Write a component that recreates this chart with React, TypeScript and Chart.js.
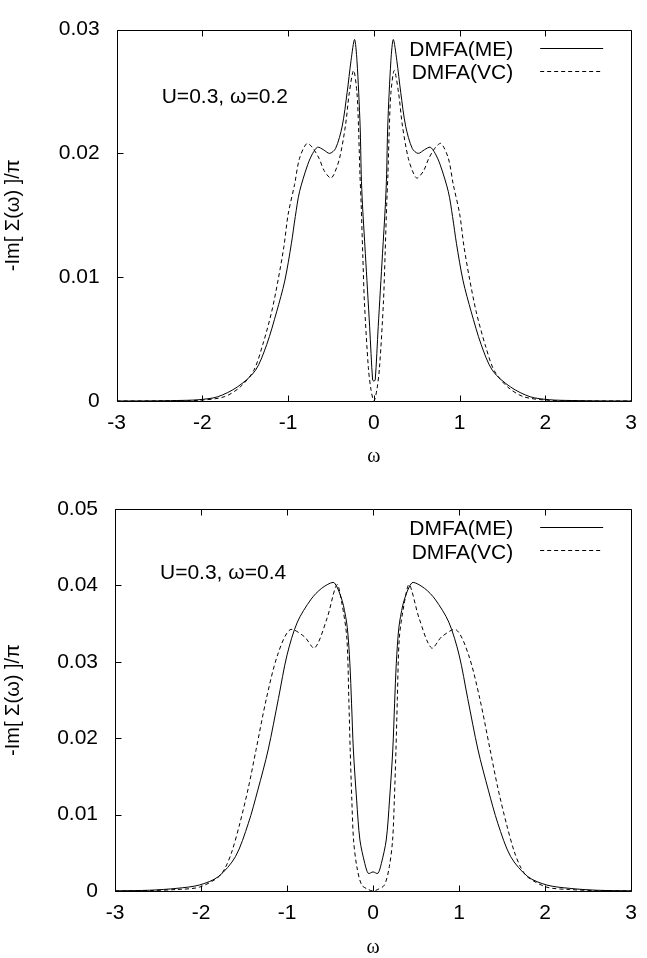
import React, { useEffect, useRef } from 'react';
import { Chart, registerables } from 'chart.js';

Chart.register(...registerables);

const SANS = '"Liberation Sans", Arial, Helvetica, sans-serif';
const SERIF = '"Liberation Serif", "Times New Roman", serif';

// ---- labels / ticks ----
const seriesNames = ['DMFA(ME)', 'DMFA(VC)'];
const xTitle = 'ω';
const yTitle = '-Im[ Σ(ω) ]/π';
const topNote = 'U=0.3, ω=0.2';
const bottomNote = 'U=0.3, ω=0.4';
const xTickValues = [-3, -2, -1, 0, 1, 2, 3];
const xTickLabels = ['-3', '-2', '-1', '0', '1', '2', '3'];
const topYTickValues = [0, 0.01, 0.02, 0.03];
const topYTickLabels = ['0', '0.01', '0.02', '0.03'];
const bottomYTickValues = [0, 0.01, 0.02, 0.03, 0.04, 0.05];
const bottomYTickLabels = ['0', '0.01', '0.02', '0.03', '0.04', '0.05'];

// ---- top panel (U=0.3, ω=0.2) ----
const topMEx = [
  -3, -2.6, -2.3, -2.05, -1.823, -1.594, -1.384, -1.25, -1.135, -1.04, -0.963, -0.917, -0.868, -0.772, -0.714,
  -0.657, -0.59, -0.516, -0.447, -0.37, -0.313, -0.267, -0.226, -0.198, -0.161, -0.148, -0.134, -0.1, -0.05,
  -0.015, 0, 0.015, 0.05, 0.1, 0.134, 0.148, 0.161, 0.198, 0.226, 0.267, 0.313, 0.37, 0.447, 0.516, 0.59, 0.657,
  0.714, 0.772, 0.868, 0.917, 0.963, 1.04, 1.135, 1.25, 1.384, 1.594, 1.823, 2.05, 2.3, 2.6, 3,
];
const topMEy = [
  0, 0.00001, 0.00004, 0.0001, 0.00034, 0.00113, 0.00245, 0.00457, 0.0072, 0.0097, 0.0127, 0.0149, 0.0169, 0.0191,
  0.02, 0.0205, 0.0203, 0.02, 0.0204, 0.0222, 0.0249, 0.0275, 0.0292, 0.0275, 0.0222, 0.0183, 0.0159, 0.0119, 0.006,
  0.0017, 0.0016, 0.0017, 0.006, 0.0119, 0.0159, 0.0183, 0.0222, 0.0275, 0.0292, 0.0275, 0.0249, 0.0222, 0.0204,
  0.02, 0.0203, 0.0205, 0.02, 0.0191, 0.0169, 0.0149, 0.0127, 0.0097, 0.0072, 0.00457, 0.00245, 0.00113, 0.00034,
  0.0001, 0.00004, 0.00001, 0,
];
const topVCx = [
  -3, -2.4, -2.05, -1.747, -1.56, -1.403, -1.296, -1.193, -1.116, -1.05, -1.0, -0.925, -0.868, -0.783, -0.72, -0.64,
  -0.58, -0.505, -0.467, -0.401, -0.333, -0.287, -0.237, -0.198, -0.18, -0.163, -0.149, -0.13, -0.111, -0.065,
  -0.034, 0, 0.034, 0.065, 0.111, 0.13, 0.149, 0.163, 0.18, 0.198, 0.237, 0.287, 0.333, 0.401, 0.467, 0.505, 0.58,
  0.64, 0.72, 0.783, 0.868, 0.925, 1.0, 1.05, 1.116, 1.193, 1.296, 1.403, 1.56, 1.747, 2.05, 2.4, 3,
];
const topVCy = [
  0, 0.00001, 0.00005, 0.00034, 0.00113, 0.00245, 0.00457, 0.0072, 0.00984, 0.01248, 0.0151, 0.0175, 0.0196, 0.0208,
  0.0205, 0.0196, 0.0186, 0.018, 0.0183, 0.0196, 0.0222, 0.0249, 0.0267, 0.0249, 0.0222, 0.0183, 0.0159, 0.0118,
  0.008, 0.0027, 0.0009, 0, 0.0009, 0.0027, 0.008, 0.0118, 0.0159, 0.0183, 0.0222, 0.0249, 0.0267, 0.0249, 0.0222,
  0.0196, 0.0183, 0.018, 0.0186, 0.0196, 0.0205, 0.0208, 0.0196, 0.0175, 0.0151, 0.01248, 0.00984, 0.0072, 0.00457,
  0.00245, 0.00113, 0.00034, 0.00005, 0.00001, 0,
];

// ---- bottom panel (U=0.3, ω=0.4) ----
const botMEx = [
  -3, -2.6, -2.28, -2.02, -1.8, -1.6, -1.45, -1.34, -1.22, -1.1, -1.0, -0.88, -0.72, -0.6, -0.465, -0.42, -0.38,
  -0.345, -0.3, -0.27, -0.25, -0.229, -0.191, -0.153, -0.096, -0.055, 0, 0.055, 0.096, 0.153, 0.191, 0.229, 0.25,
  0.27, 0.3, 0.345, 0.38, 0.42, 0.465, 0.6, 0.72, 0.88, 1.0, 1.1, 1.22, 1.34, 1.45, 1.6, 1.8, 2.02, 2.28, 2.6, 3,
];
const botMEy = [
  0.00002, 0.0001, 0.00035, 0.00078, 0.00187, 0.00449, 0.00886, 0.0132, 0.01846, 0.0252, 0.0309, 0.0352, 0.0382,
  0.0396, 0.0404, 0.0398, 0.0387, 0.0374, 0.0345, 0.0298, 0.0245, 0.01846, 0.0119, 0.00668, 0.0036, 0.0023, 0.0025,
  0.0023, 0.0036, 0.00668, 0.0119, 0.01846, 0.0245, 0.0298, 0.0345, 0.0374, 0.0387, 0.0398, 0.0404, 0.0396, 0.0382,
  0.0352, 0.0309, 0.0252, 0.01846, 0.0132, 0.00886, 0.00449, 0.00187, 0.00078, 0.00035, 0.0001, 0.00002,
];
const botVCx = [
  -3, -2.6, -2.28, -2.02, -1.8, -1.72, -1.64, -1.55, -1.45, -1.36, -1.24, -1.11, -0.965, -0.8, -0.68, -0.535, -0.42,
  -0.36, -0.305, -0.282, -0.266, -0.247, -0.227, -0.189, -0.132, -0.055, 0, 0.055, 0.132, 0.189, 0.227, 0.247, 0.266,
  0.282, 0.305, 0.36, 0.42, 0.535, 0.68, 0.8, 0.965, 1.11, 1.24, 1.36, 1.45, 1.55, 1.64, 1.72, 1.8, 2.02, 2.28, 2.6, 3,
];
const botVCy = [
  0.00001, 0.00005, 0.0002, 0.0005, 0.0018, 0.003, 0.0052, 0.0088, 0.0135, 0.0185, 0.0252, 0.0309, 0.0342, 0.0333,
  0.0318, 0.0357, 0.0401, 0.0375, 0.0331, 0.0251, 0.01846, 0.0119, 0.00668, 0.0032, 0.00078, 0.0002, 0, 0.0002,
  0.00078, 0.0032, 0.00668, 0.0119, 0.01846, 0.0251, 0.0331, 0.0375, 0.0401, 0.0357, 0.0318, 0.0333, 0.0342, 0.0309,
  0.0252, 0.0185, 0.0135, 0.0088, 0.0052, 0.003, 0.0018, 0.0005, 0.0002, 0.00005, 0.00001,
];

const decorPlugin = {
  id: 'decor',
  afterDraw(chart: any, _args: any, opts: any) {
    const { ctx, chartArea: a } = chart;
    const xs = chart.scales.x;
    const ys = chart.scales.y;
    ctx.save();
    ctx.strokeStyle = '#000';
    ctx.lineWidth = 1;
    ctx.setLineDash([]);
    const L = Math.round(a.left) + 0.5;
    const R = Math.round(a.right) + 0.5;
    const T = Math.round(a.top) + 0.5;
    const B = Math.round(a.bottom) + 0.5;
    ctx.beginPath();
    ctx.rect(L, T, R - L, B - T);
    ctx.stroke();
    const tl = 6;
    ctx.beginPath();
    xs.ticks.forEach((t: any) => {
      const px = Math.round(xs.getPixelForValue(t.value)) + 0.5;
      ctx.moveTo(px, B);
      ctx.lineTo(px, B - tl);
      ctx.moveTo(px, T);
      ctx.lineTo(px, T + tl);
    });
    ys.ticks.forEach((t: any) => {
      const py = Math.round(ys.getPixelForValue(t.value)) + 0.5;
      ctx.moveTo(L, py);
      ctx.lineTo(L + tl, py);
    });
    ctx.stroke();

    // legend (gnuplot style: text then line sample)
    ctx.font = `21px ${SANS}`;
    ctx.fillStyle = '#000';
    ctx.textAlign = 'right';
    ctx.textBaseline = 'alphabetic';
    chart.data.datasets.forEach((ds: any, i: number) => {
      const base = a.top + 26.3 + i * 23.3;
      ctx.fillText(ds.label, a.right - 118, base);
      const ly = Math.round(a.top + 18 + i * 23) + 0.5;
      ctx.beginPath();
      ctx.setLineDash(ds.borderDash || []);
      ctx.moveTo(a.right - 91, ly);
      ctx.lineTo(a.right - 28, ly);
      ctx.stroke();
    });
    ctx.setLineDash([]);

    // annotation
    ctx.textAlign = 'left';
    ctx.fillText(opts.note, a.left + 45, a.top + opts.noteDy);
    ctx.restore();
  },
};

type PanelProps = {
  height: number;
  padTop: number;
  padRight: number;
  yWidth: number;
  xHeight: number;
  xTitlePad: number;
  meX: number[];
  meY: number[];
  vcX: number[];
  vcY: number[];
  yTicks: number[];
  yLabels: string[];
  note: string;
  noteDy: number;
};

function Panel(p: PanelProps) {
  const ref = useRef<HTMLCanvasElement | null>(null);
  useEffect(() => {
    if (!ref.current) return;
    const me = p.meX.map((x, i) => ({ x, y: p.meY[i] }));
    const vc = p.vcX.map((x, i) => ({ x, y: p.vcY[i] }));
    const yMax = p.yTicks[p.yTicks.length - 1];
    const chart = new Chart(ref.current, {
      type: 'line',
      data: {
        datasets: [
          {
            label: seriesNames[0],
            data: me,
            borderColor: '#000',
            borderWidth: 1,
            pointRadius: 0,
            fill: false,
            tension: 0.3,
          },
          {
            label: seriesNames[1],
            data: vc,
            borderColor: '#000',
            borderWidth: 1,
            borderDash: [4, 3],
            pointRadius: 0,
            fill: false,
            tension: 0.3,
          },
        ],
      },
      options: {
        responsive: false,
        devicePixelRatio: 1,
        animation: false,
        events: [],
        layout: { padding: { left: 0, right: p.padRight, top: p.padTop, bottom: 0 } },
        plugins: {
          legend: { display: false },
          tooltip: { enabled: false },
          decor: { note: p.note, noteDy: p.noteDy },
        } as any,
        scales: {
          x: {
            type: 'linear',
            min: -3,
            max: 3,
            afterBuildTicks: (s: any) => {
              s.ticks = xTickValues.map((v) => ({ value: v }));
            },
            afterFit: (s: any) => {
              s.height = p.xHeight;
            },
            ticks: {
              autoSkip: false,
              maxRotation: 0,
              padding: 10,
              color: '#000',
              font: { family: SANS, size: 21 },
              callback: (v: any) => xTickLabels[xTickValues.indexOf(Number(v))],
            },
            grid: { display: false, drawTicks: false },
            border: { display: false },
            title: {
              display: true,
              text: xTitle,
              color: '#000',
              font: { family: SERIF, size: 20, lineHeight: 1 },
              padding: { top: 0, bottom: p.xTitlePad },
            },
          },
          y: {
            type: 'linear',
            min: 0,
            max: yMax,
            afterBuildTicks: (s: any) => {
              s.ticks = p.yTicks.map((v) => ({ value: v }));
            },
            afterFit: (s: any) => {
              s.width = p.yWidth;
            },
            ticks: {
              autoSkip: false,
              padding: 17,
              color: '#000',
              font: { family: SANS, size: 21 },
              callback: (v: any) => {
                const idx = p.yTicks.findIndex((t) => Math.abs(t - Number(v)) < 1e-9);
                return idx >= 0 ? p.yLabels[idx] : '';
              },
            },
            grid: { display: false, drawTicks: false },
            border: { display: false },
            title: {
              display: true,
              text: yTitle,
              color: '#000',
              font: { family: SANS, size: 20, lineHeight: 1 },
              padding: { top: 3, bottom: 0 },
            },
          },
        },
      },
      plugins: [decorPlugin as any],
    } as any);
    return () => chart.destroy();
  }, []);
  return <canvas ref={ref} width={647} height={p.height} style={{ display: 'block' }} />;
}

export default function App() {
  return (
    <div style={{ position: 'absolute', left: 0, top: 0, width: 647, height: 958, background: '#fff' }}>
      <Panel
        height={470}
        padTop={22}
        padRight={6.3}
        yWidth={116.7}
        xHeight={69}
        xTitlePad={3.5}
        meX={topMEx}
        meY={topMEy}
        vcX={topVCx}
        vcY={topVCy}
        yTicks={topYTickValues}
        yLabels={topYTickLabels}
        note={topNote}
        noteDy={73}
      />
      <Panel
        height={488}
        padTop={39}
        padRight={9}
        yWidth={115}
        xHeight={67}
        xTitlePad={0}
        meX={botMEx}
        meY={botMEy}
        vcX={botVCx}
        vcY={botVCy}
        yTicks={bottomYTickValues}
        yLabels={bottomYTickLabels}
        note={bottomNote}
        noteDy={70.3}
      />
    </div>
  );
}
